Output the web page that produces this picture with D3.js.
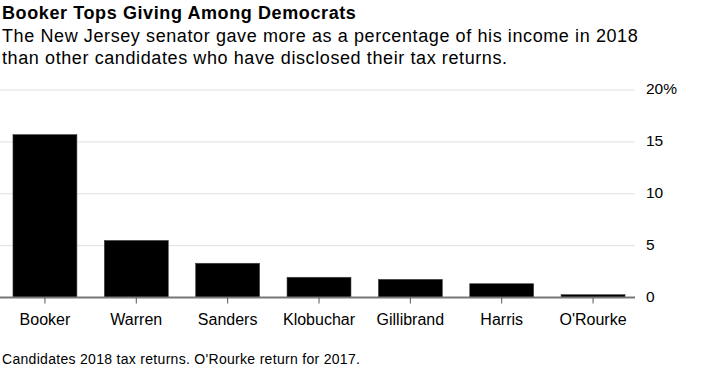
<!DOCTYPE html>
<html>
<head>
<meta charset="utf-8">
<script src="https://cdn.jsdelivr.net/npm/d3@7"></script>
<style>
  body { margin: 0; background: #fff; }
  text { font-family: "Liberation Sans", Arial, sans-serif; }
</style>
</head>
<body>
<div id="chart"></div>
<script>
// data
var candidates = ["Booker", "Warren", "Sanders", "Klobuchar", "Gillibrand", "Harris", "O'Rourke"];
var giving = [15.7, 5.5, 3.3, 1.95, 1.75, 1.33, 0.27];
var yTicks = [0, 5, 10, 15, 20];

var svgWidth = 707;
var svgHeight = 378;

var svg = d3.select("#chart")
  .append("svg")
  .attr("width", svgWidth)
  .attr("height", svgHeight);

var plotLeft = 2, plotRight = 636;
var plotTop = 90, plotBottom = 297.5;

var xScale = d3.scaleBand()
  .domain(candidates)
  .range([plotLeft, plotRight])
  .paddingInner(0.3)
  .paddingOuter(0.12);

var yScale = d3.scaleLinear()
  .domain([0, 20])
  .range([plotBottom, plotTop]);

// gridlines
svg.append("g").selectAll("line")
  .data(yTicks.filter(d => d > 0))
  .enter()
  .append("line")
  .attr("x1", 0)
  .attr("x2", 635)
  .attr("y1", d => yScale(d))
  .attr("y2", d => yScale(d))
  .attr("stroke", "#e0e0e0")
  .attr("stroke-width", 1);

// y labels on the right
svg.append("g").selectAll("text")
  .data(yTicks)
  .enter()
  .append("text")
  .attr("x", 646)
  .attr("y", d => yScale(d))
  .attr("dominant-baseline", "middle")
  .attr("font-size", "15.5px")
  .attr("fill", "#000")
  .text(d => d === 20 ? d + "%" : d);

// bars
svg.append("g").selectAll("rect")
  .data(candidates)
  .enter()
  .append("rect")
  .attr("x", d => xScale(d))
  .attr("width", xScale.bandwidth())
  .attr("y", (d, i) => yScale(giving[i]))
  .attr("height", (d, i) => yScale(0) - yScale(giving[i]))
  .attr("fill", "#000")
  .attr("stroke", "#444")
  .attr("stroke-width", 0.6);

// baseline
svg.append("line")
  .attr("x1", 0)
  .attr("x2", 635)
  .attr("y1", plotBottom)
  .attr("y2", plotBottom)
  .attr("stroke", "#777")
  .attr("stroke-width", 2);

// x ticks + labels
var xAxisG = svg.append("g");
xAxisG.selectAll("line")
  .data(candidates)
  .enter()
  .append("line")
  .attr("x1", d => xScale(d) + xScale.bandwidth() / 2)
  .attr("x2", d => xScale(d) + xScale.bandwidth() / 2)
  .attr("y1", plotBottom)
  .attr("y2", plotBottom + 6)
  .attr("stroke", "#555")
  .attr("stroke-width", 1);

xAxisG.selectAll("text")
  .data(candidates)
  .enter()
  .append("text")
  .attr("x", d => xScale(d) + xScale.bandwidth() / 2)
  .attr("y", 325)
  .attr("text-anchor", "middle")
  .attr("font-size", "16px")
  .attr("fill", "#000")
  .text(d => d);

// title, subtitle, note
svg.append("text")
  .attr("x", 2)
  .attr("y", 19)
  .attr("font-size", "18px")
  .attr("font-weight", "bold")
  .attr("letter-spacing", "0.6px")
  .attr("fill", "#000")
  .text("Booker Tops Giving Among Democrats");

svg.append("text")
  .attr("x", 2)
  .attr("y", 42)
  .attr("font-size", "18px")
  .attr("letter-spacing", "0.6px")
  .attr("fill", "#000")
  .text("The New Jersey senator gave more as a percentage of his income in 2018");

svg.append("text")
  .attr("x", 2)
  .attr("y", 64)
  .attr("font-size", "18px")
  .attr("letter-spacing", "0.6px")
  .attr("fill", "#000")
  .text("than other candidates who have disclosed their tax returns.");

svg.append("text")
  .attr("x", 2)
  .attr("y", 364)
  .attr("font-size", "14px")
  .attr("letter-spacing", "0.3px")
  .attr("fill", "#000")
  .text("Candidates 2018 tax returns. O'Rourke return for 2017.");
</script>
</body>
</html>
